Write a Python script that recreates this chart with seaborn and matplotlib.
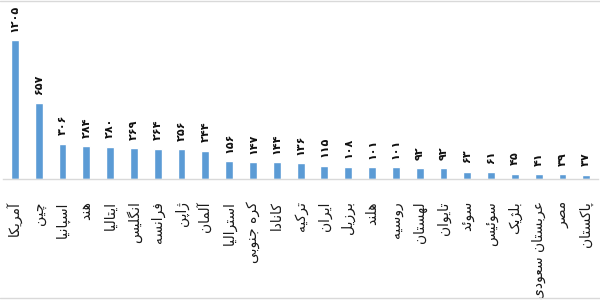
import matplotlib
matplotlib.use("Agg")
import matplotlib.pyplot as plt
from matplotlib.lines import Line2D
import seaborn as sns
import pandas as pd

countries = ["آمریکا", "چین", "اسپانیا", "هند", "ایتالیا", "انگلیس", "فرانسه", "ژاپن",
             "آلمان", "استرالیا", "کره جنوبی", "کانادا", "ترکیه", "ایران", "برزیل",
             "هلند", "روسیه", "لهستان", "تایوان", "سوئد", "سوئیس", "بلژیک",
             "عربستان سعودی", "مصر", "پاکستان"]
values = [1205, 657, 306, 284, 280, 269, 264, 256, 244, 156, 147, 144, 136, 115,
          108, 101, 101, 92, 92, 63, 61, 45, 41, 39, 37]

# --- minimal Arabic/Persian shaping (presentation forms) + visual reversal ---
FORMS = {
    "ا": ("\uFE8D", "\uFE8E"), "آ": ("\uFE81", "\uFE82"),
    "د": ("\uFEA9", "\uFEAA"), "ذ": ("\uFEAB", "\uFEAC"),
    "ر": ("\uFEAD", "\uFEAE"), "ز": ("\uFEAF", "\uFEB0"),
    "ژ": ("\uFB8A", "\uFB8B"), "و": ("\uFEED", "\uFEEE"),
    "ب": ("\uFE8F", "\uFE90", "\uFE91", "\uFE92"),
    "پ": ("\uFB56", "\uFB57", "\uFB58", "\uFB59"),
    "ت": ("\uFE95", "\uFE96", "\uFE97", "\uFE98"),
    "ج": ("\uFE9D", "\uFE9E", "\uFE9F", "\uFEA0"),
    "چ": ("\uFB7A", "\uFB7B", "\uFB7C", "\uFB7D"),
    "س": ("\uFEB1", "\uFEB2", "\uFEB3", "\uFEB4"),
    "ص": ("\uFEB9", "\uFEBA", "\uFEBB", "\uFEBC"),
    "ع": ("\uFEC9", "\uFECA", "\uFECB", "\uFECC"),
    "ف": ("\uFED1", "\uFED2", "\uFED3", "\uFED4"),
    "ک": ("\uFB8E", "\uFB8F", "\uFB90", "\uFB91"),
    "گ": ("\uFB92", "\uFB93", "\uFB94", "\uFB95"),
    "ل": ("\uFEDD", "\uFEDE", "\uFEDF", "\uFEE0"),
    "م": ("\uFEE1", "\uFEE2", "\uFEE3", "\uFEE4"),
    "ن": ("\uFEE5", "\uFEE6", "\uFEE7", "\uFEE8"),
    "ه": ("\uFEE9", "\uFEEA", "\uFEEB", "\uFEEC"),
    "ی": ("\uFBFC", "\uFBFD", "\uFBFE", "\uFBFF"),
    "ئ": ("\uFE89", "\uFE8A", "\uFE8B", "\uFE8C"),
}


def shape(text):
    out = []
    n = len(text)
    for i, ch in enumerate(text):
        f = FORMS.get(ch)
        if f is None:
            out.append(ch)
            continue
        prev = text[i - 1] if i > 0 else None
        nxt = text[i + 1] if i < n - 1 else None
        join_prev = prev in FORMS and len(FORMS[prev]) == 4
        join_next = len(f) == 4 and nxt in FORMS
        if join_prev and join_next:
            out.append(f[3])
        elif join_prev:
            out.append(f[1])
        elif join_next:
            out.append(f[2])
        else:
            out.append(f[0])
    return "".join(out)[::-1]


def fa_digits(v):
    return str(v).translate(str.maketrans("0123456789", "۰۱۲۳۴۵۶۷۸۹"))


df = pd.DataFrame({"country": countries, "value": values})

sns.set_theme(style="white")
plt.rcParams["font.family"] = ["DejaVu Sans"]

fig = plt.figure(figsize=(6, 3), dpi=100)
ax = fig.add_axes([0.005, 1 - 179 / 300, 0.992, 169 / 300])

sns.barplot(data=df, x="country", y="value", color="#5B9BD5", width=0.33,
            saturation=1, ax=ax)

ax.set_xlim(-0.5, len(countries) - 0.5)
ax.set_ylim(0, 1464)
ax.set_xlabel("")
ax.set_ylabel("")
ax.set_yticks([])
ax.set_xticks(range(len(countries)))
ax.set_xticklabels([shape(c) for c in countries], rotation=90, fontsize=10,
                   color="#1a1a1a", ha="center", va="top")
ax.tick_params(axis="x", length=0, pad=16)

for s in ["top", "right", "left"]:
    ax.spines[s].set_visible(False)
ax.spines["bottom"].set_color("#D9D9D9")
ax.spines["bottom"].set_linewidth(1)

ax.bar_label(ax.containers[0], labels=[fa_digits(v) for v in values],
             rotation=90, padding=6, fontsize=8, fontweight="bold",
             color="#111111")

# chart border lines (top & bottom)
fig.add_artist(Line2D([0, 1], [0.997, 0.997], transform=fig.transFigure,
                      color="#D9D9D9", lw=1))
fig.add_artist(Line2D([0, 1], [0.007, 0.007], transform=fig.transFigure,
                      color="#D9D9D9", lw=1))

fig.savefig("out.png", dpi=100)
